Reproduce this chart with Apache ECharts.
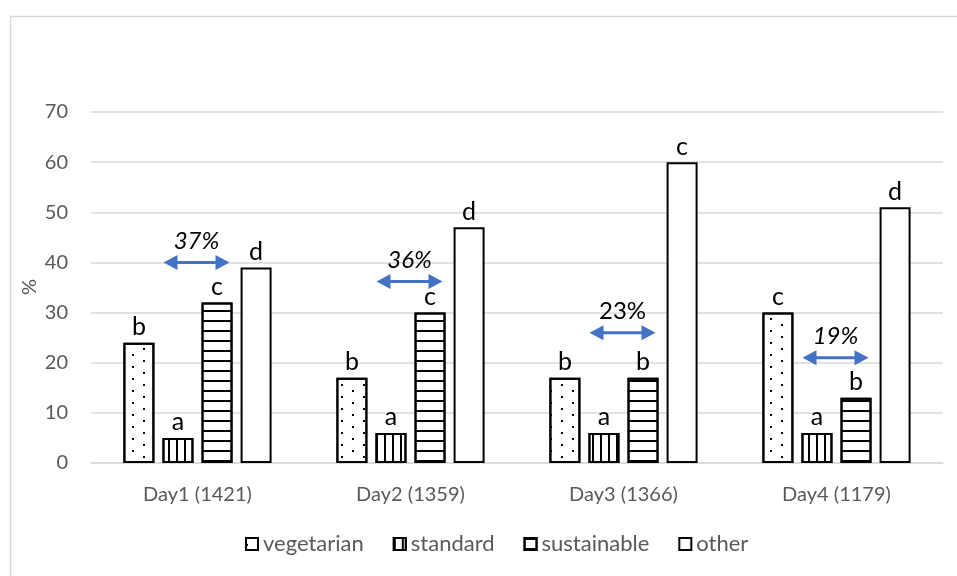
<!DOCTYPE html>
<html><head><meta charset="utf-8">
<script src="https://cdn.jsdelivr.net/npm/echarts@6/dist/echarts.min.js"></script>
<style>html,body{margin:0;padding:0;background:#fff}#c{width:957px;height:576px}</style>
</head><body><div id="c"></div>
<script>
const categories = ['Day1 (1421)', 'Day2 (1359)', 'Day3 (1366)', 'Day4 (1179)'];
const vegetarian = [24, 17, 17, 30];
const standard = [5, 6, 6, 6];
const sustainable = [32, 30, 17, 13];
const other = [39, 47, 60, 51];
const vegLetters = ['b', 'b', 'b', 'c'];
const stdLetters = ['a', 'a', 'a', 'a'];
const susLetters = ['c', 'c', 'b', 'b'];
const othLetters = ['d', 'd', 'c', 'd'];
const gapLabels = ['37%', '36%', '23%', '19%'];
const gapItalic = [true, true, false, true];
const arrowLevel = [40, 36.2, 26, 21];
const yTicks = [0, 10, 20, 30, 40, 50, 60, 70];
const yAxisTitle = '%';

const FONT = 'Lato, "Liberation Sans", sans-serif';
const chart = echarts.init(document.getElementById('c'));

function barSeries(name, values, letters, decal) {
  return {
    name, type: 'bar', data: values,
    barWidth: 31, barGap: '26%',
    itemStyle: { color: '#fff', borderColor: '#000', borderWidth: 2, decal },
    label: {
      show: true, position: 'top', distance: 3,
      formatter: p => letters[p.dataIndex],
      color: '#000', fontSize: 25, fontFamily: FONT
    },
    emphasis: { disabled: true }
  };
}

const dotDecal = { symbol: 'rect', symbolSize: 1, color: '#000', backgroundColor: 'rgba(0,0,0,0)',
  dashArrayX: [[2, 20], [0, 11, 2, 9]], dashArrayY: [2, 3.35], rotation: 0 };
const vDecal = { symbol: 'rect', symbolSize: 1, color: '#000', backgroundColor: 'rgba(0,0,0,0)',
  dashArrayX: [2, 6], dashArrayY: [1, 0], rotation: 0 };
const hDecal = { symbol: 'rect', symbolSize: 1, color: '#000', backgroundColor: 'rgba(0,0,0,0)',
  dashArrayX: [1, 0], dashArrayY: [2, 7.5], rotation: 0 };

chart.setOption({
  animation: false,
  textStyle: { fontFamily: FONT },
  graphic: [
    { type: 'rect', left: 8, top: 14, shape: { width: 980, height: 600 },
      style: { fill: 'none', stroke: '#d9d9d9', lineWidth: 1.5 }, silent: true },
    { type: 'text', x: 30, y: 287, rotation: Math.PI / 2,
      style: { text: yAxisTitle, fill: '#595959', fontSize: 20, fontFamily: FONT,
        align: 'center', verticalAlign: 'middle' }, silent: true }
  ],
  grid: { left: 91, right: 14, top: 112, bottom: 113 },
  legend: {
    bottom: 16, left: 240, itemWidth: 12, itemHeight: 12, itemGap: 29,
    data: ['vegetarian', 'standard', 'sustainable', 'other'],
    textStyle: { color: '#595959', fontSize: 22, fontFamily: FONT },
    icon: 'rect'
  },
  xAxis: {
    type: 'category', data: categories,
    axisLine: { lineStyle: { color: '#d9d9d9', width: 1.5 } },
    axisTick: { show: false },
    axisLabel: { color: '#595959', fontSize: 20, margin: 22, fontFamily: FONT }
  },
  yAxis: {
    type: 'value', min: 0, max: 70, interval: 10,
    axisLine: { show: false }, axisTick: { show: false },
    axisLabel: { color: '#595959', fontSize: 20, margin: 23, fontFamily: FONT,
      formatter: v => yTicks.includes(v) ? String(v) : '' },
    splitLine: { lineStyle: { color: '#d9d9d9', width: 1.5 } }
  },
  series: [
    barSeries('vegetarian', vegetarian, vegLetters, dotDecal),
    barSeries('standard', standard, stdLetters, vDecal),
    barSeries('sustainable', sustainable, susLetters, hDecal),
    barSeries('other', other, othLetters, undefined),
    {
      type: 'custom', name: 'gap', silent: true, z: 5,
      data: arrowLevel.map((v, i) => [i, v]),
      renderItem: function (params, api) {
        const i = api.value(0);
        const p = api.coord([i, api.value(1)]);
        const x1 = p[0] - 34, x2 = p[0] + 32, y = p[1];
        const hl = 14, hh = 7.5, col = '#4472c4';
        return {
          type: 'group',
          children: [
            { type: 'line', shape: { x1: x1 + hl - 2, y1: y, x2: x2 - hl + 2, y2: y },
              style: { stroke: col, lineWidth: 3 } },
            { type: 'polygon', shape: { points: [[x1, y], [x1 + hl, y - hh], [x1 + hl, y + hh]] },
              style: { fill: col } },
            { type: 'polygon', shape: { points: [[x2, y], [x2 - hl, y - hh], [x2 - hl, y + hh]] },
              style: { fill: col } },
            { type: 'text', style: { text: gapLabels[i], x: p[0] - 1, y: y - 21,
                align: 'center', verticalAlign: 'middle', fill: '#000', fontSize: 24,
                fontStyle: gapItalic[i] ? 'italic' : 'normal', fontFamily: FONT } }
          ]
        };
      }
    }
  ]
});
</script></body></html>
